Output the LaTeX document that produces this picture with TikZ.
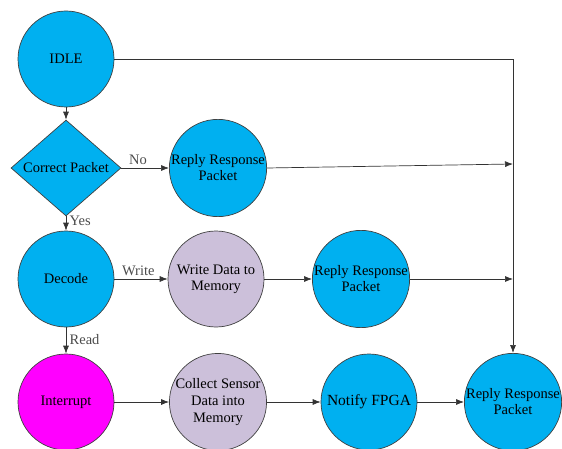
\documentclass[tikz,border=0pt]{standalone}
\usepackage{fontspec}
\setmainfont{Liberation Serif}
\newfontfamily\diagfont{Liberation Serif}
\usepackage{xcolor}
\usepackage{tikz}
\usetikzlibrary{arrows.meta, shapes.geometric}
\definecolor{stateblue}{RGB}{0,176,240}
\definecolor{statelilac}{RGB}{204,192,218}
\definecolor{statemagenta}{RGB}{255,0,255}

\begin{document}
\begin{tikzpicture}[x=1pt, y=-1pt,
  state/.style={circle, draw=black!75, line width=0.7pt, fill=stateblue, minimum size=96pt, inner sep=0pt, align=center, font=\diagfont\fontsize{14.5}{16}\selectfont},
  decision/.style={diamond, draw=black!75, line width=0.7pt, fill=stateblue, minimum width=110pt, minimum height=80pt, inner sep=0pt, font=\diagfont\fontsize{14.5}{16}\selectfont},
  flow/.style={-{Latex[length=8pt,width=6pt]}, draw=black!80, line width=0.7pt},
  lbl/.style={font=\diagfont\fontsize{14.5}{16}\selectfont, text=black!70}]
\path[use as bounding box, clip] (0,0) rectangle (562,449);
% states
\node[state] (idle) at (66,59) {IDLE};
\node[decision] (check) at (66,168) {Correct Packet};
\node[state] (replyA) at (218,168) {Reply Response\\Packet};
\node[state] (decode) at (66,279) {Decode};
\node[state, fill=statelilac] (write) at (216,279) {Write Data to\\Memory};
\node[state] (replyB) at (361,279) {Reply Response\\Packet};
\node[state, fill=statemagenta] (irq) at (66,402) {Interrupt};
\node[state, fill=statelilac, font=\diagfont\fontsize{14.5}{17}\selectfont] (collect) at (218,402) {Collect Sensor\\Data into\\Memory};
\node[state, font=\diagfont\fontsize{15.5}{17}\selectfont] (notify) at (369,402) {Notify FPGA};
\node[state] (replyC) at (513,402) {Reply Response\\Packet};
% joins on the return line
\coordinate (joinA) at (513,164);
\coordinate (joinB) at (513,279);
% transitions
\draw[flow] (idle) -- (check);
\draw[flow] (idle.east) -| (replyC.north);
\draw[flow] (check.east) -- node[lbl, above, pos=0.35] {No} (replyA.west);
\draw[flow] (replyA.east) -- (joinA);
\draw[flow] (check.south) -- node[lbl, right, pos=0.3] {Yes} (decode.north);
\draw[flow] (decode.east) -- node[lbl, above, pos=0.45] {Write} (write.west);
\draw[flow] (write.east) -- (replyB.west);
\draw[flow] (replyB.east) -- (joinB);
\draw[flow] (decode.south) -- node[lbl, right, pos=0.45] {Read} (irq.north);
\draw[flow] (irq.east) -- (collect.west);
\draw[flow] (collect.east) -- (notify.west);
\draw[flow] (notify.east) -- (replyC.west);
\end{tikzpicture}
\end{document}
